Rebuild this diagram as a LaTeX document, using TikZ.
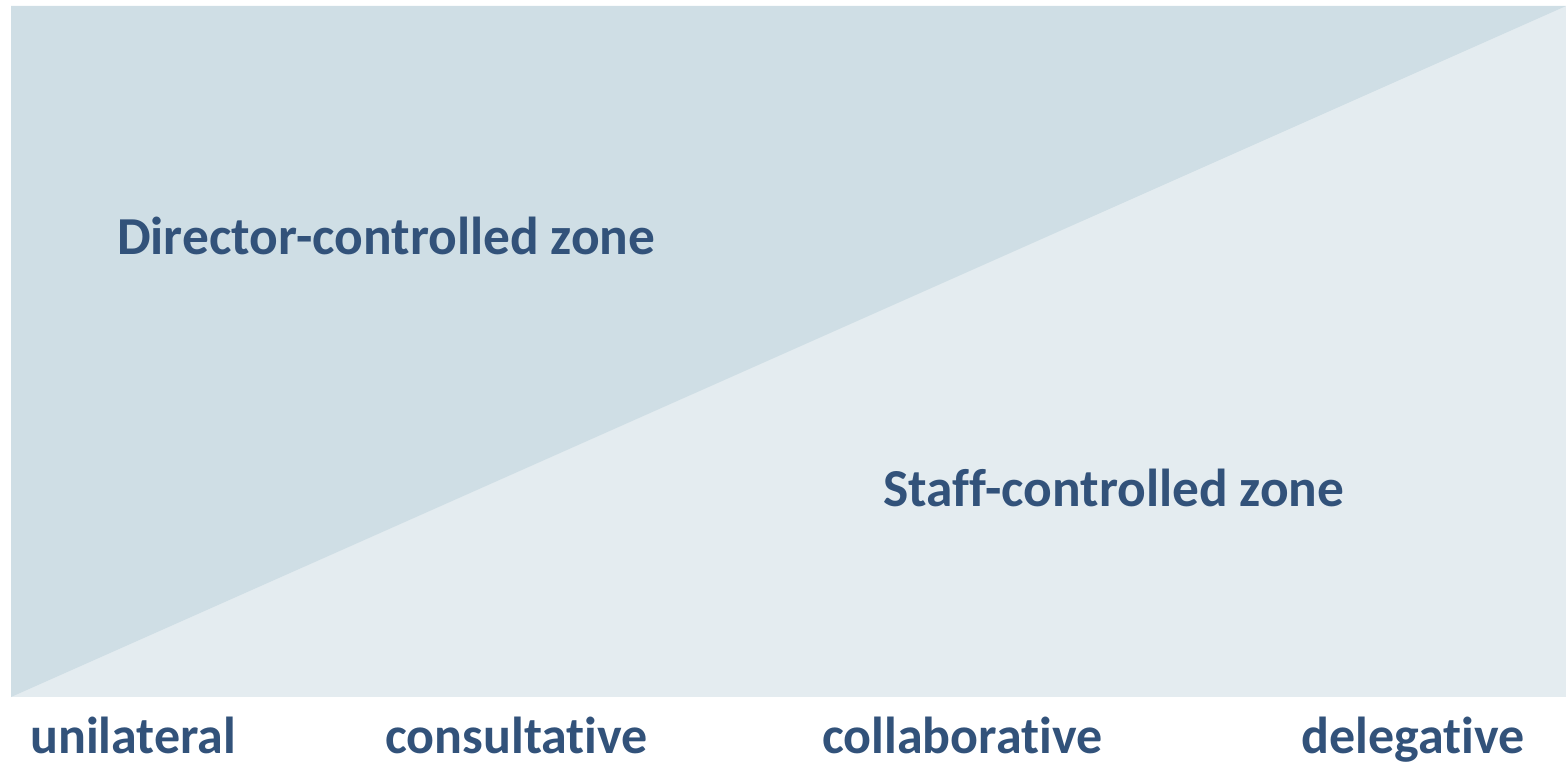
\documentclass[tikz,border=0pt]{standalone}
\usepackage{fontspec}
\setmainfont[Ligatures=NoCommon]{Carlito}
\usepackage{tikz}
\definecolor{darkzone}{HTML}{CFDEE5}
\definecolor{lightzone}{HTML}{E4ECF0}
\definecolor{zonetext}{HTML}{32527A}
\tikzset{zonelabel/.style={anchor=base west, inner sep=0pt, text=zonetext, font=\fontsize{53.4}{60}\selectfont\bfseries},
	scalelabel/.style={anchor=base west, inner sep=0pt, text=zonetext, font=\fontsize{52}{60}\selectfont\bfseries}}

\begin{document}
\begin{tikzpicture}[x=1pt, y=-1pt]
			%%%%% START %%%%%
			
			\useasboundingbox (0, 0) rectangle (1566, 765);
			
			\fill[lightzone] (11, 6) rectangle (1566, 697);
			\fill[darkzone] (11, 697) -- (11, 6) -- (1566, 6) -- cycle;
			
			\node[zonelabel] (dirzone) at (117, 254) {Director-controlled zone};
			\node[zonelabel] (staffzone) at (883, 506) {Staff-controlled zone};
			
			\node[scalelabel] (unilateral) at (30, 753) {unilateral};
			\node[scalelabel] (consultative) at (385, 753) {consultative};
			\node[scalelabel] (collaborative) at (822, 753) {collaborative};
			\node[scalelabel] (delegative) at (1301, 753) {delegative};
			
			%%%%% END %%%%%
		\end{tikzpicture}
\end{document}
